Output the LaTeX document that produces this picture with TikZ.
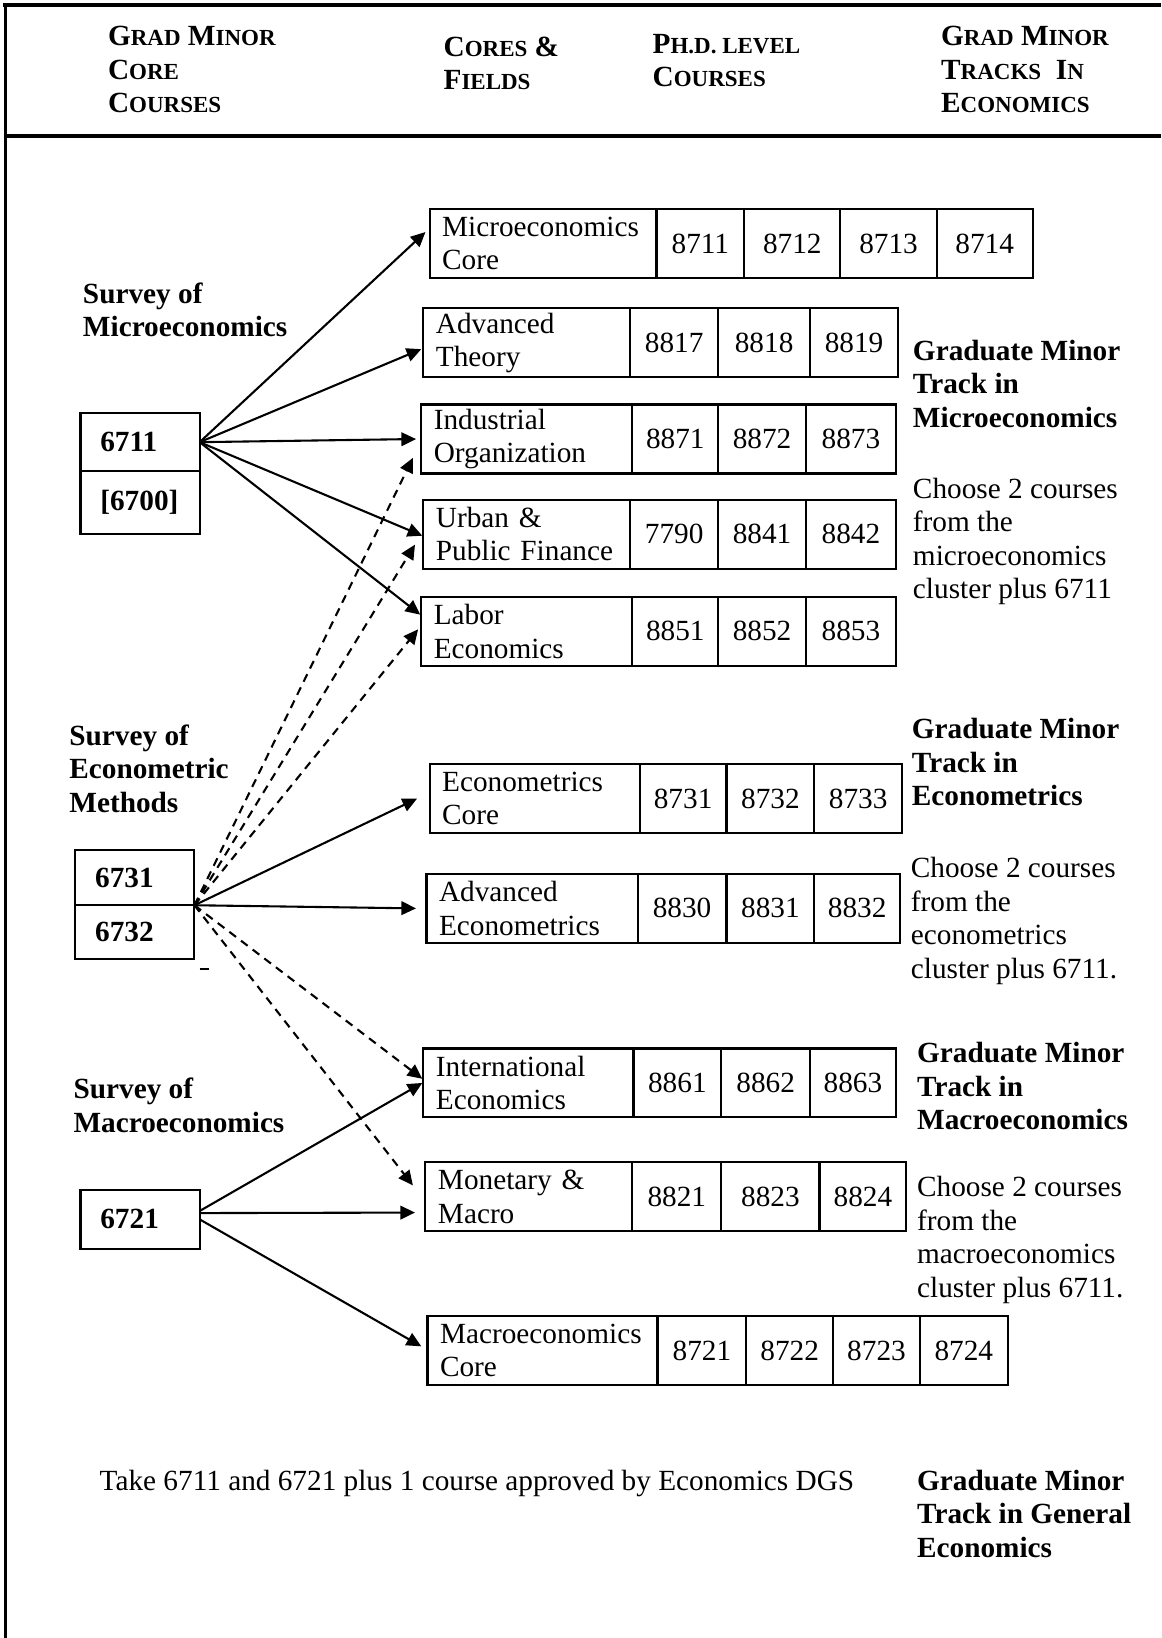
\documentclass[tikz,border=0pt]{standalone}
\usepackage{fontspec}
\setmainfont{Liberation Serif}
\usetikzlibrary{arrows.meta,positioning}
\newlength\px
\setlength\px{0.5pt}
\newcommand\capsc[2]{#1{\fontsize{11}{16}\selectfont #2}}
\tikzset{
  cell/.style={draw, line width=1pt, outer sep=0pt, inner sep=0pt, minimum height=66\px},
  field/.style={cell, anchor=north west, text width=#1, inner xsep=6pt, align=left},
  num/.style={cell, minimum width=#1},
  core/.style={draw, line width=1pt, outer sep=0pt, text width=38pt, inner xsep=9.5pt, inner ysep=0pt, align=left, font=\bfseries},
  link/.style={line width=1pt, -{Triangle[length=7pt,width=6.5pt]}},
  opt/.style={link, dash pattern=on 4pt off 3pt},
  head/.style={anchor=north west, inner sep=0pt, align=left, font=\bfseries},
  note/.style={anchor=north west, inner sep=0pt, align=left},
}
\begin{document}
\fontsize{14}{16}\selectfont
\begin{tikzpicture}[x=0.5pt, y=-0.5pt]
\useasboundingbox (0,0) rectangle (1111,1567);
% frame and header
\draw[line width=2pt] (3,5) -- (1111,5);
\draw[line width=1.5pt] (5,5) -- (5,1567);
\draw[line width=2pt] (5,130) -- (1111,130);
\node[head] (hcore) at (103,25) {\capsc{G}{RAD} \capsc{M}{INOR}\\\capsc{C}{ORE}\\\capsc{C}{OURSES}};
\node[head] (hfield) at (424,35) {\capsc{C}{ORES} \&\\\capsc{F}{IELDS}};
\node[head] (hphd) at (624,32) {\capsc{P}{H.D. LEVEL}\\\capsc{C}{OURSES}};
\node[head] (htrack) at (900,25) {\capsc{G}{RAD} \capsc{M}{INOR}\\\capsc{T}{RACKS} \ \capsc{I}{N}\\\capsc{E}{CONOMICS}};

% grad minor core courses
\node[head] (smicro) at (79,270) {Survey of\\Microeconomics};
\node[core, minimum height=56\px, anchor=north west] (b6711) at (77,395) {6711};
\node[core, minimum height=60\px, below=0pt of b6711] (b6700) {[6700]};
\node[head] (secon) at (66,693) {Survey of\\Econometric\\Methods};
\node[core, minimum height=53\px, anchor=north west] (b6731) at (72,813) {6731};
\node[core, minimum height=51\px, below=0pt of b6731] (b6732) {6732};
\draw[line width=1pt] (191,927) -- (200,927);
\node[head] (smacro) at (70,1031) {Survey of\\Macroeconomics};
\node[core, minimum height=57\px, anchor=north west] (b6721) at (77,1138) {6721};

% cores, fields and courses
\node[field=193\px] (micro) at (411,200) {Microeconomics\\Core};
\node[num=84\px, right=0pt of micro] (micro1) {8711};
\node[num=92\px, right=0pt of micro1] (micro2) {8712};
\node[num=92\px, right=0pt of micro2] (micro3) {8713};
\node[num=92\px, right=0pt of micro3] (micro4) {8714};

\node[field=174\px] (advth) at (405,295) {Advanced\\Theory};
\node[num=84\px, right=0pt of advth] (advth1) {8817};
\node[num=88\px, right=0pt of advth1] (advth2) {8818};
\node[num=84\px, right=0pt of advth2] (advth3) {8819};

\node[field=178\px] (indorg) at (403,387) {Industrial\\Organization};
\node[num=82\px, right=0pt of indorg] (indorg1) {8871};
\node[num=84\px, right=0pt of indorg1] (indorg2) {8872};
\node[num=86\px, right=0pt of indorg2] (indorg3) {8873};

\node[field=174\px] (urban) at (405,478) {Urban \&\\Public Finance};
\node[num=84\px, right=0pt of urban] (urban1) {7790};
\node[num=84\px, right=0pt of urban1] (urban2) {8841};
\node[num=86\px, right=0pt of urban2] (urban3) {8842};

\node[field=178\px] (labor) at (403,571) {Labor\\Economics};
\node[num=82\px, right=0pt of labor] (labor1) {8851};
\node[num=84\px, right=0pt of labor1] (labor2) {8852};
\node[num=86\px, right=0pt of labor2] (labor3) {8853};

\node[field=177\px] (ecocore) at (411,731) {Econometrics\\Core};
\node[num=83\px, right=0pt of ecocore] (ecocore1) {8731};
\node[num=84\px, right=0pt of ecocore1] (ecocore2) {8732};
\node[num=84\px, right=0pt of ecocore2] (ecocore3) {8733};

\node[field=178\px] (adveco) at (408,836) {Advanced\\Econometrics};
\node[num=85\px, right=0pt of adveco] (adveco1) {8830};
\node[num=84\px, right=0pt of adveco1] (adveco2) {8831};
\node[num=82\px, right=0pt of adveco2] (adveco3) {8832};

\node[field=177\px] (intl) at (405,1003) {International\\Economics};
\node[num=84\px, right=0pt of intl] (intl1) {8861};
\node[num=85\px, right=0pt of intl1] (intl2) {8862};
\node[num=82\px, right=0pt of intl2] (intl3) {8863};

\node[field=174\px] (monet) at (407,1112) {Monetary \&\\Macro};
\node[num=85\px, right=0pt of monet] (monet1) {8821};
\node[num=94\px, right=0pt of monet1] (monet2) {8823};
\node[num=83\px, right=0pt of monet2] (monet3) {8824};

\node[field=196\px] (macro) at (409,1259) {Macroeconomics\\Core};
\node[num=85\px, right=0pt of macro] (macro1) {8721};
\node[num=83\px, right=0pt of macro1] (macro2) {8722};
\node[num=83\px, right=0pt of macro2] (macro3) {8723};
\node[num=84\px, right=0pt of macro3] (macro4) {8724};

% grad minor tracks
\node[head] (tmicro) at (873,325) {Graduate Minor\\Track in\\Microeconomics};
\node[note] (nmicro) at (873,457) {Choose 2 courses\\from the\\microeconomics\\cluster plus 6711};
\node[head] (tecon) at (872,687) {Graduate Minor\\Track in\\Econometrics};
\node[note] (necon) at (871,820) {Choose 2 courses\\from the\\econometrics\\cluster plus 6711.};
\node[head] (tmacro) at (877,997) {Graduate Minor\\Track in\\Macroeconomics};
\node[note] (nmacro) at (877,1125) {Choose 2 courses\\from the\\macroeconomics\\cluster plus 6711.};
\node[note] (ngen) at (95,1406) {Take 6711 and 6721 plus 1 course approved by Economics DGS};
\node[head] (tgen) at (877,1406) {Graduate Minor\\Track in General\\Economics};

% arrows
\draw[link] (b6711.east) -- ([xshift=-2pt,yshift=5.5pt]micro.west);
\draw[link] (b6711.east) -- ([xshift=-1pt,yshift=-3pt]advth.west);
\draw[link] (b6711.east) -- ([xshift=-2.5pt]indorg.west);
\draw[link] (b6711.east) -- ([xshift=-0.5pt,yshift=-0.75pt]urban.west);
\draw[link] (b6711.east) -- ([xshift=-0.5pt,yshift=8pt]labor.west);
\draw[opt] (b6731.south east) -- ([xshift=-4pt,yshift=-9pt]indorg.west);
\draw[opt] (b6731.south east) -- ([xshift=-4pt,yshift=-5pt]urban.west);
\draw[opt] (b6731.south east) -- ([xshift=-1.5pt,yshift=1pt]labor.west);
\draw[link] (b6731.south east) -- ([xshift=-6pt]ecocore.west);
\draw[link] (b6731.south east) -- ([xshift=-5pt]adveco.west);
\draw[opt] (b6731.south east) -- ([xshift=-0.5pt,yshift=2pt]intl.west);
\draw[opt] (b6731.south east) -- ([xshift=-6pt,yshift=5.5pt]monet.west);
\draw[link] ([yshift=4pt]b6721.east) -- ([xshift=-0.5pt]intl.west);
\draw[link] ([yshift=3pt]b6721.east) -- ([xshift=-5pt,yshift=-7.5pt]monet.west);
\draw[link] (b6721.east) -- ([xshift=-3pt,yshift=2pt]macro.west);
\end{tikzpicture}
\end{document}
